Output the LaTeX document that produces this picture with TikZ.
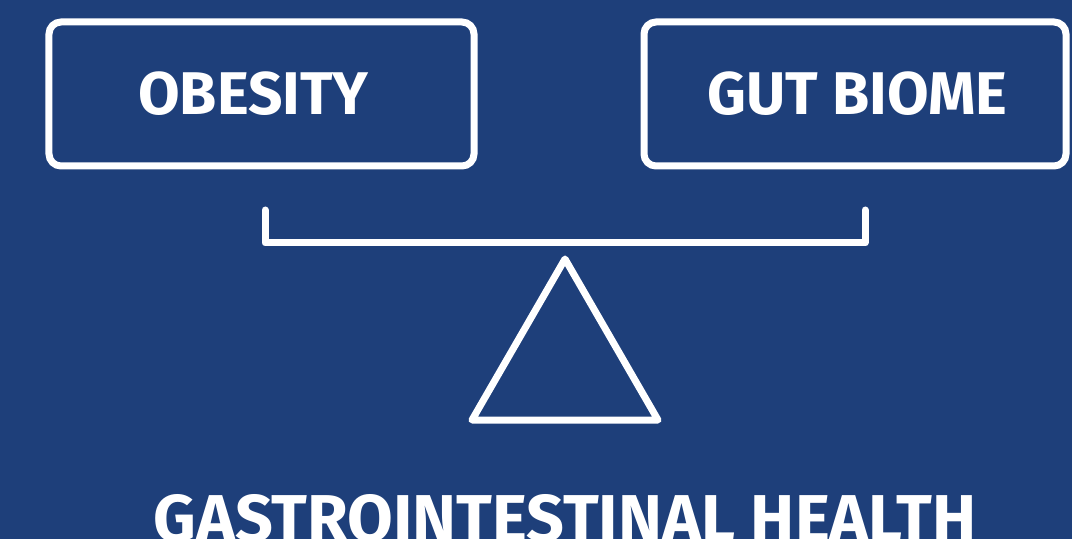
\documentclass[tikz,border=0pt]{standalone}
\usepackage{fontspec}
\setmainfont{Fira Sans}
\usetikzlibrary{positioning, calc}
\definecolor{boardblue}{HTML}{1E3F7A}

\begin{document}
\begin{tikzpicture}[
    x=1bp, y=-1bp,
    % ── Node styles ──────────────────────────────────────────────────────
    factorbox/.style={
        draw=white, rounded corners=12bp, line width=7bp,
        minimum height=144bp, inner sep=0pt,
        text=white, align=center,
        font=\fontsize{60.5}{70}\selectfont\bfseries
    },
    titlelabel/.style={
        text=white, inner sep=0pt, anchor=base,
        font=\fontsize{66.5}{76}\selectfont\bfseries
    },
    % ── Line style ───────────────────────────────────────────────────────
    scaleline/.style={
        draw=white, line width=7bp, line cap=round, line join=round
    }
]

% ═══════════════════════════════════════════════════════════════════════════
% Background
% ═══════════════════════════════════════════════════════════════════════════
\fill[boardblue] (0,0) rectangle (1072,539);
\useasboundingbox (0,0) rectangle (1072,539);

% ═══════════════════════════════════════════════════════════════════════════
% Two weights
% ═══════════════════════════════════════════════════════════════════════════
\node[factorbox, minimum width=425bp] (obesity) at (261.5,94)
    {OBESITY\kern16bp};
\node[factorbox, minimum width=422bp] (gutbiome) at (855,94)
    {\kern5bp GUT BIOME};

% ═══════════════════════════════════════════════════════════════════════════
% Beam and fulcrum
% ═══════════════════════════════════════════════════════════════════════════
\coordinate (beamleft)  at (265,210);
\coordinate (beamright) at (865,210);
\coordinate (apex)      at (565,259);
\draw[scaleline] (beamleft) -- (265,243) -- (865,243) -- (beamright);
\draw[scaleline] (apex) -- (658,420) -- (472,420) -- cycle;

% Caption
\node[titlelabel] (health) at (565,541) {GASTROINTESTINAL HEALTH};

\end{tikzpicture}
\end{document}
